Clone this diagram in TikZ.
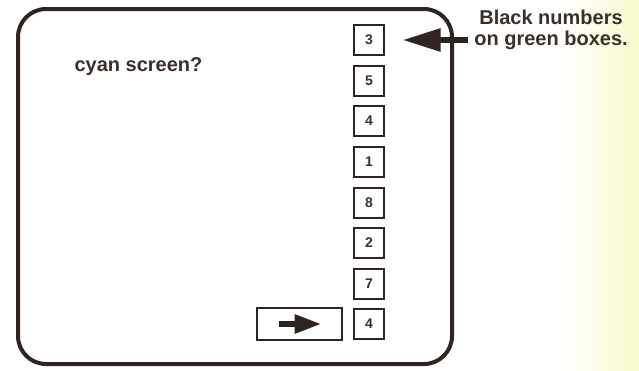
\documentclass[tikz,border=0pt]{standalone}
\usepackage{fontspec}
\setmainfont{Liberation Sans}
\usetikzlibrary{arrows.meta}
\definecolor{ink}{HTML}{2F2520}
\definecolor{txt}{HTML}{3A302A}
\definecolor{paleyel}{HTML}{F7F9CC}
\tikzset{
  numbox/.style={draw=ink, line width=1.3pt, minimum size=30pt, inner sep=0pt,
    font=\fontsize{14}{14}\selectfont\bfseries, text=txt},
  lbl/.style={font=\fontsize{20}{20.5}\selectfont\bfseries, text=txt},
  screen/.style={draw=ink, line width=4pt, rounded corners=28pt},
  bigarrow/.style={ink, line width=6pt, -{Triangle[length=38pt,width=22pt]}},
  smallarrow/.style={ink, line width=6pt, -{Triangle[length=27pt,width=18pt]}}
}
\begin{document}
\begin{tikzpicture}[x=1pt,y=-1pt]
\useasboundingbox (0,0) rectangle (639,370);
\shade[left color=white, right color=paleyel] (560,0) rectangle (639,370);
\draw[screen] (18,9) rectangle (452,364);
\node[lbl, anchor=base west] (q) at (71,71) {cyan screen?};
\foreach \n/\y/\d in {b1/40/3, b2/81/5, b3/121/4, b4/162/1, b5/203/8, b6/243/2, b7/284/7, b8/324/4}
  \node[numbox] (\n) at (369,\y) {\d};
\node[draw=ink, line width=2.5pt, minimum width=85pt, minimum height=32pt, inner sep=0pt] (abox) at (299.5,324) {};
\coordinate (atail) at ([xshift=-21pt]abox.center);
\coordinate (ahead) at ([xshift=22pt]abox.center);
\draw[smallarrow] (atail) -- (ahead);
\node[lbl, align=center, anchor=base] (note) at (551,45) {Black numbers\\on green boxes.};
\coordinate (ntail) at (468,40);
\draw[bigarrow, shorten >=18pt] (ntail) -- (b1);
\end{tikzpicture}
\end{document}
